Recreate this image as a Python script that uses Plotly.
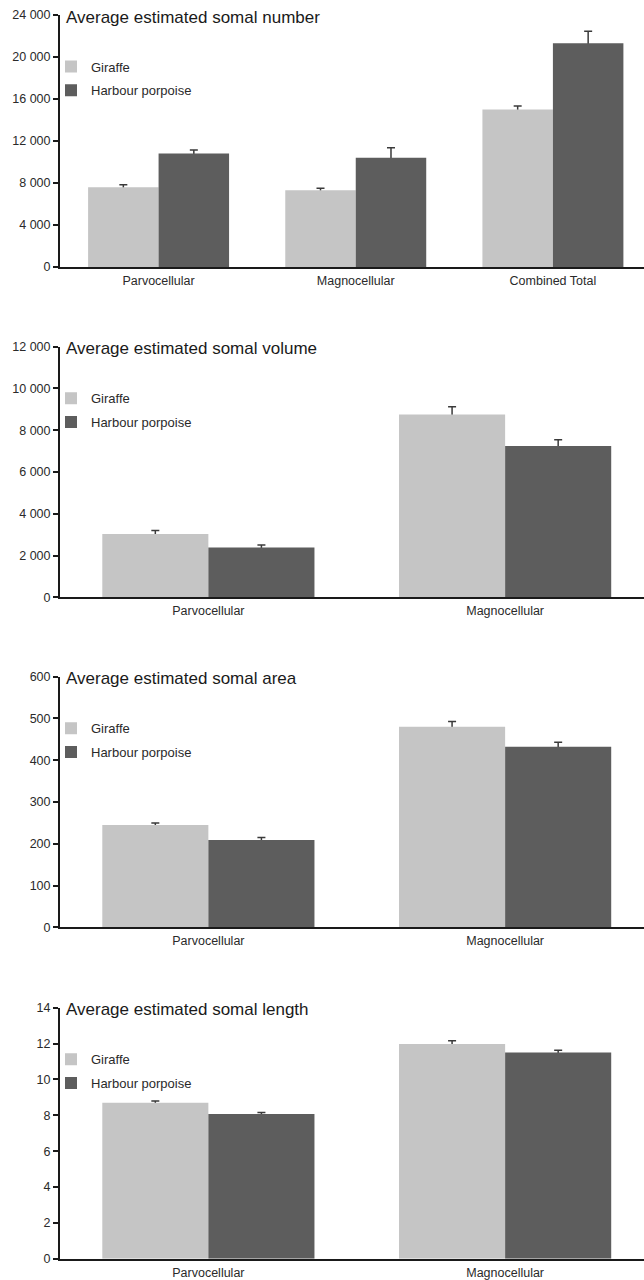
import plotly.graph_objects as go

# ---------------- data ----------------
species = ["Giraffe", "Harbour porpoise"]
species_colors = ["#c5c5c5", "#5d5d5d"]

number_categories = ["Parvocellular", "Magnocellular", "Combined Total"]
number_giraffe = [7600, 7300, 15000]
number_giraffe_err = [230, 200, 330]
number_porpoise = [10800, 10400, 21300]
number_porpoise_err = [350, 950, 1150]

volume_categories = ["Parvocellular", "Magnocellular"]
volume_giraffe = [3030, 8750]
volume_giraffe_err = [170, 380]
volume_porpoise = [2390, 7250]
volume_porpoise_err = [120, 290]

area_categories = ["Parvocellular", "Magnocellular"]
area_giraffe = [245, 480]
area_giraffe_err = [5, 13]
area_porpoise = [209, 432]
area_porpoise_err = [6, 11]

length_categories = ["Parvocellular", "Magnocellular"]
length_giraffe = [8.7, 11.98]
length_giraffe_err = [0.1, 0.17]
length_porpoise = [8.07, 11.5]
length_porpoise_err = [0.08, 0.12]

panel_titles = [
    "Average estimated somal number",
    "Average estimated somal volume",
    "Average estimated somal area",
    "Average estimated somal length",
]
y_max = [24000, 12000, 600, 14]
y_dtick = [4000, 2000, 100, 2]

panels = [
    (number_categories, [number_giraffe, number_porpoise], [number_giraffe_err, number_porpoise_err]),
    (volume_categories, [volume_giraffe, volume_porpoise], [volume_giraffe_err, volume_porpoise_err]),
    (area_categories, [area_giraffe, area_porpoise], [area_giraffe_err, area_porpoise_err]),
    (length_categories, [length_giraffe, length_porpoise], [length_giraffe_err, length_porpoise_err]),
]

# ---------------- layout geometry (pixels) ----------------
W, H = 644, 1280
axis_left_px = 60
panel_top_px = [15, 346.7, 676.7, 1007.7]
panel_bottom_px = [267, 597.3, 927.3, 1258.7]
x_right = {3: 2.462, 2: 1.468}

FONT = "Liberation Sans, Arial, Helvetica, sans-serif"
TXT = "#2a2a2a"

fig = go.Figure()
layout = dict(
    width=W, height=H, autosize=False,
    margin=dict(l=0, r=0, t=0, b=0, pad=0),
    paper_bgcolor="white", plot_bgcolor="white",
    barmode="group", bargap=0.285, bargroupgap=0,
    separators=". ",
    font=dict(family=FONT, color=TXT, size=12.5),
    annotations=[],
)

for i, (cats, vals, errs) in enumerate(panels):
    ax = "" if i == 0 else str(i + 1)
    leg = "legend" if i == 0 else f"legend{i + 1}"
    # error bars first (their lower half is covered by the bars drawn afterwards)
    for s, name in enumerate(species):
        fig.add_trace(go.Bar(
            x=cats, y=vals[s], name=name + " SE",
            marker=dict(color="rgba(0,0,0,0)", line=dict(width=0)),
            error_y=dict(type="data", array=errs[s], symmetric=True,
                         color="#3a3a3a", thickness=1.5, width=4),
            offsetgroup=f"g{s}",
            xaxis="x" + ax, yaxis="y" + ax,
            showlegend=False, hoverinfo="skip",
        ))
    for s, name in enumerate(species):
        fig.add_trace(go.Bar(
            x=cats, y=vals[s], name=name,
            marker=dict(color=species_colors[s], line=dict(width=0)),
            offsetgroup=f"g{s}",
            xaxis="x" + ax, yaxis="y" + ax,
            legend=leg, legendgroup=f"{leg}_{name}",
            showlegend=True, hoverinfo="skip",
        ))
    y0 = 1 - panel_bottom_px[i] / H
    y1 = 1 - panel_top_px[i] / H
    layout["xaxis" + ax] = dict(
        domain=[axis_left_px / W, 1], anchor="y" + ax,
        range=[-0.5, x_right[len(cats)]], automargin=False,
        showline=True, linecolor="#1a1a1a", linewidth=2,
        ticks="outside", ticklen=1, tickcolor="rgba(0,0,0,0)",
        showgrid=False, zeroline=False,
        tickfont=dict(size=12.5, color=TXT, family=FONT),
        fixedrange=True,
    )
    layout["yaxis" + ax] = dict(
        domain=[y0, y1], anchor="x" + ax,
        range=[0, y_max[i]], dtick=y_dtick[i], tick0=0, tickformat=",d",
        automargin=False,
        showline=True, linecolor="#1a1a1a", linewidth=2,
        ticks="outside", ticklen=5, tickwidth=1.5, tickcolor="#1a1a1a",
        showgrid=False, zeroline=False,
        tickfont=dict(size=12.5, color=TXT, family=FONT),
        fixedrange=True,
    )
    layout["annotations"].append(dict(
        text=panel_titles[i], xref="paper", yref="paper",
        x=64 / W, y=1 - (panel_top_px[i] + 2) / H,
        xanchor="left", yanchor="middle", showarrow=False,
        font=dict(size=17, color="#1a1a1a", family=FONT),
    ))
    layout[leg] = dict(
        x=51 / W, y=1 - (panel_top_px[i] + 36.5) / H,
        xanchor="left", yanchor="top",
        bgcolor="rgba(0,0,0,0)", borderwidth=0,
        font=dict(size=13, color=TXT, family=FONT),
        traceorder="grouped", tracegroupgap=4,
        itemclick=False, itemdoubleclick=False,
    )

fig.update_layout(**layout)
fig.write_html(
    "out.html",
    config={"displayModeBar": False},
    post_script="document.body.style.margin='0';document.body.style.overflow='hidden';",
)
